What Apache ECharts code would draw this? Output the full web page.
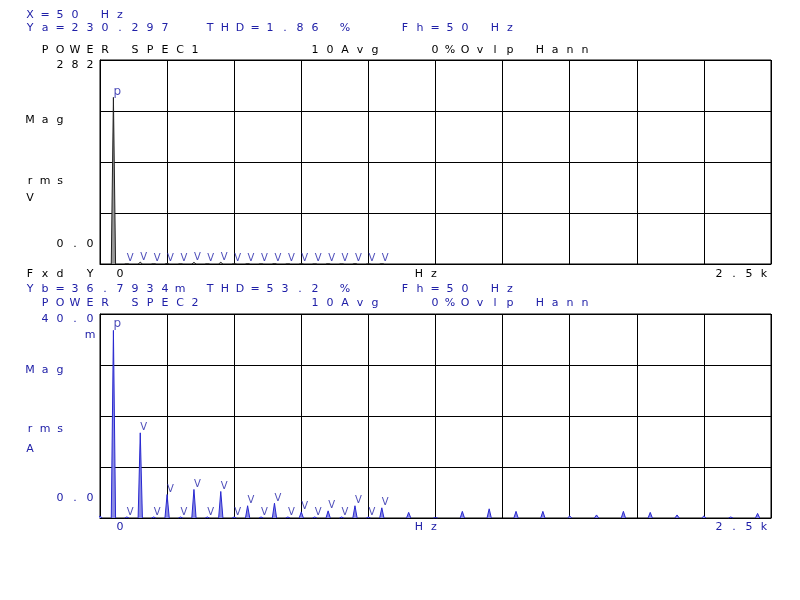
<!DOCTYPE html>
<html>
<head>
<meta charset="utf-8">
<script src="https://cdn.jsdelivr.net/npm/echarts@6/dist/echarts.min.js"></script>
<style>
    html, body { margin: 0; padding: 0; background: #fff; }
    #chart { width: 800px; height: 600px; }
</style>
</head>
<body>
<div id="chart"></div>
<script>
    // harmonic lines that carry a marker (Hz)
    var harmonicHz = [50, 100, 150, 200, 250, 300, 350, 400, 450, 500, 550, 600, 650, 700, 750, 800, 850, 900, 950, 1000, 1050]
    // POWER SPEC1, voltage, V rms
    var voltMag = [230.297, 0.3, 2.4, 0.3, 0.8, 0.3, 2.2, 0.3, 2.3, 0.2, 0.6, 0.2, 0.7, 0.2, 0.4, 0.2, 0.4, 0.2, 0.5, 0.2, 0.4]
    // POWER SPEC2, current, mA rms
    var currMag = [36.79, 0.2, 16.7, 0.2, 4.6, 0.2, 5.6, 0.2, 5.2, 0.2, 2.4, 0.2, 2.9, 0.2, 1.2, 0.2, 1.4, 0.2, 2.4, 0.2, 2.0]
    // higher harmonics without marker
    var highHz = [0, 1150, 1250, 1350, 1450, 1550, 1650, 1750, 1850, 1950, 2050, 2150, 2250, 2350, 2450]
    var highCurr = [0.4, 1.1, 0.1, 1.3, 1.8, 1.3, 1.3, 0.4, 0.6, 1.3, 1.1, 0.6, 0.4, 0.2, 0.9]
    // axis ranges
    var xMax = 2500
    var voltMax = 282
    var currMax = 40

    var BLUE = '#2020a8'
    var PITCH = 15
    var FONT = '11px "DejaVu Sans"'

    // fixed pitch text like the analyzer screen
    function hpText (str, x, y, color) {
        var out = []
        for (var i = 0; i < str.length; i++) {
            if (str[i] === ' ') continue
            out.push({
                type: 'text',
                x: x + i * PITCH + 4,
                y: y,
                silent: true,
                style: {
                    text: str[i],
                    fill: color,
                    font: FONT,
                    textAlign: 'center',
                    textVerticalAlign: 'middle',
                    align: 'center',
                    verticalAlign: 'middle'
                }
            })
        }
        return out
    }

    // narrow triangles around each line, broken between lines
    function peaks (freqs, mags) {
        var hw = 8
        var pts = []
        freqs.forEach(function (f, i) {
            pts.push([f - hw, 0], [f, mags[i]], [f + hw, 0], [f + hw, null])
        })
        return pts
    }

    function marks (freqs, mags) {
        return freqs.map(function (f, i) {
            return { value: [f, mags[i]], label: { formatter: i === 0 ? 'p' : 'V', fontSize: i === 0 ? 12 : 10 } }
        })
    }

    var texts = []
        .concat(hpText('X=50 Hz', 26, 15, BLUE))
        .concat(hpText('Ya=230.297  THD=1.86 %   Fh=50 Hz', 26, 28, BLUE))
        .concat(hpText(' POWER SPEC1       10Avg   0%Ovlp Hann', 26, 50.5, '#000'))
        .concat(hpText('282', 56, 65, '#000'))
        .concat(hpText('Mag', 26, 120, '#000'))
        .concat(hpText('rms', 26, 181, '#000'))
        .concat(hpText('V', 26, 198, '#000'))
        .concat(hpText('0.0', 56, 244, '#000'))
        .concat(hpText('Fxd Y 0', 26, 274, '#000'))
        .concat(hpText('Hz', 415, 274, '#000'))
        .concat(hpText('2.5k', 715, 274, '#000'))
        .concat(hpText('Yb=36.7934m THD=53.2 %   Fh=50 Hz', 26, 289, BLUE))
        .concat(hpText(' POWER SPEC2       10Avg   0%Ovlp Hann', 26, 303.5, BLUE))
        .concat(hpText('40.0', 41, 319, BLUE))
        .concat(hpText('m', 86, 335, BLUE))
        .concat(hpText('Mag', 26, 370, BLUE))
        .concat(hpText('rms', 26, 429, BLUE))
        .concat(hpText('A', 26, 449.5, BLUE))
        .concat(hpText('0.0', 56, 498, BLUE))
        .concat(hpText('0', 116, 527.5, BLUE))
        .concat(hpText('Hz', 415, 527.5, BLUE))
        .concat(hpText('2.5k', 715, 527.5, BLUE))

    function xAxisOf (idx) {
        return {
            type: 'value',
            gridIndex: idx,
            min: 0,
            max: xMax,
            interval: xMax / 10,
            axisLine: { show: true, lineStyle: { color: '#000', width: 1 } },
            axisTick: { show: false },
            axisLabel: { show: false },
            splitLine: { show: true, lineStyle: { color: '#000', width: 1 } }
        }
    }

    function yAxisOf (idx, max) {
        return {
            type: 'value',
            gridIndex: idx,
            min: 0,
            max: max,
            interval: max / 4,
            axisLine: { show: true, lineStyle: { color: '#000', width: 1 } },
            axisTick: { show: false },
            axisLabel: { show: false },
            splitLine: { show: true, lineStyle: { color: '#000', width: 1 } }
        }
    }

    var markLabel = {
        show: true,
        position: [0, 0],
        align: 'left',
        verticalAlign: 'bottom',
        color: BLUE,
        fontFamily: 'DejaVu Sans',
        fontSize: 10
    }

    var chart = echarts.init(document.getElementById('chart'), null, { renderer: 'canvas' })
    chart.setOption({
        animation: false,
        backgroundColor: '#fff',
        grid: [
            { left: 100, top: 60, width: 671, height: 204, show: true, borderColor: '#000', borderWidth: 1, backgroundColor: 'transparent' },
            { left: 100, top: 314, width: 671, height: 204, show: true, borderColor: '#000', borderWidth: 1, backgroundColor: 'transparent' }
        ],
        xAxis: [xAxisOf(0), xAxisOf(1)],
        yAxis: [yAxisOf(0, voltMax), yAxisOf(1, currMax)],
        graphic: texts,
        series: [
            {
                type: 'line',
                xAxisIndex: 0,
                yAxisIndex: 0,
                symbol: 'none',
                lineStyle: { color: '#222', width: 1 },
                areaStyle: { color: '#999', opacity: 1 },
                data: peaks(harmonicHz, voltMag)
            },
            {
                type: 'line',
                xAxisIndex: 1,
                yAxisIndex: 1,
                symbol: 'none',
                lineStyle: { color: '#2828d0', width: 1 },
                areaStyle: { color: '#8c8ce4', opacity: 1 },
                data: peaks(harmonicHz, currMag).concat(peaks(highHz, highCurr))
            },
            {
                type: 'scatter',
                xAxisIndex: 0,
                yAxisIndex: 0,
                symbolSize: 0,
                label: markLabel,
                data: marks(harmonicHz, voltMag)
            },
            {
                type: 'scatter',
                xAxisIndex: 1,
                yAxisIndex: 1,
                symbolSize: 0,
                label: markLabel,
                data: marks(harmonicHz, currMag)
            }
        ]
    })
</script>
</body>
</html>
